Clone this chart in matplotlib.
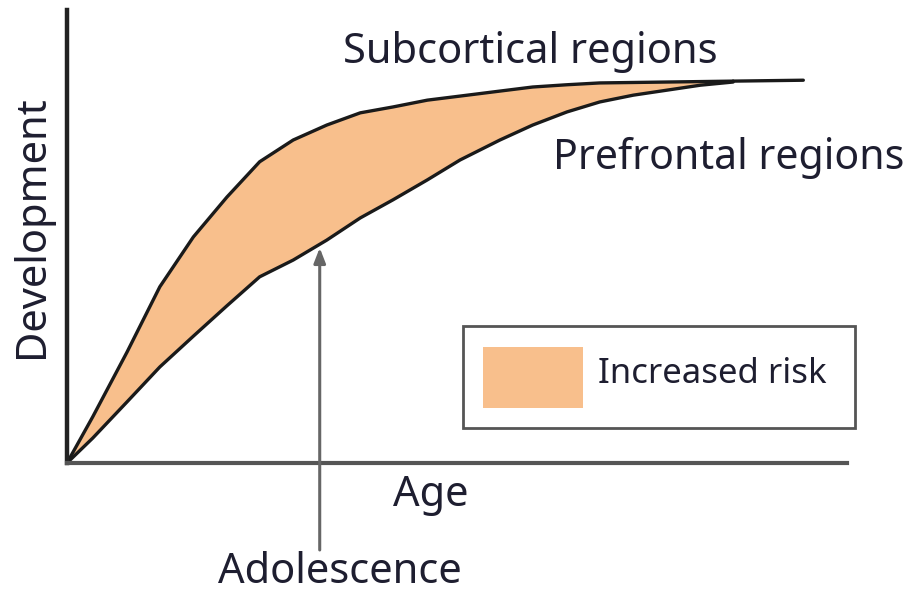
import numpy as np
import matplotlib
matplotlib.use("Agg")
import matplotlib.pyplot as plt
from matplotlib.patches import Rectangle

# Conceptual curves (age and development on a 0-100 scale)
age = [0, 3.3, 7.7, 11.9, 16.2, 20.5, 24.7, 29.0, 33.3, 37.6, 41.8,
       46.2, 50.4, 55.5, 59.7, 64.1, 68.3, 72.6, 76.9, 81.2, 85.4]
subcortical = [0, 10.2, 24.5, 38.9, 49.9, 58.7, 66.5, 71.3, 74.6, 77.3, 78.6,
               80.1, 81.0, 82.1, 83.0, 83.5, 83.9, 84.0, 84.1, 84.2, 84.3]
prefrontal = [0, 5.5, 13.5, 21.2, 28.0, 34.7, 41.1, 44.8, 49.2, 54.1, 58.1,
              62.5, 66.9, 71.3, 74.6, 77.5, 79.7, 81.2, 82.3, 83.4, 84.1]
# subcortical plateau keeps going a little past where the two meet
tail_age = [85.4, 94.4]
tail_dev = [84.3, 84.5]

adolescence_age = 32.4

plt.rcParams["font.family"] = ["Noto Sans", "DejaVu Sans"]
txt = "#1e1e30"
fill_col = "#f8bf8c"

fig = plt.figure(figsize=(9.05, 5.93), dpi=100)
ax = fig.add_axes([67 / 905, 130 / 593, 780 / 905, 453 / 593])
ax.set_xlim(0, 100)
ax.set_ylim(0, 100)
ax.set_xticks([])
ax.set_yticks([])
for side in ["top", "right"]:
    ax.spines[side].set_visible(False)
ax.spines["left"].set_color("#222222")
ax.spines["left"].set_linewidth(3.2)
ax.spines["bottom"].set_color("#555555")
ax.spines["bottom"].set_linewidth(3.0)

# risk band between the two curves
ax.fill_between(age, prefrontal, subcortical, color=fill_col, lw=0)
ax.plot(age, subcortical, color="#1a1a1a", lw=2.4, solid_capstyle="round")
ax.plot(tail_age, tail_dev, color="#1a1a1a", lw=2.4, solid_capstyle="round")
ax.plot(age, prefrontal, color="#1a1a1a", lw=2.4, solid_capstyle="round")

# adolescence pointer
ax.annotate("", xy=(adolescence_age, 47.5), xytext=(adolescence_age, -19.2),
            arrowprops=dict(arrowstyle="-|>,head_length=0.9,head_width=0.35",
                            color="#666666", lw=2.2, shrinkA=0, shrinkB=0),
            annotation_clip=False)

fs = 30
ax.text(35.4, 90.7, "Subcortical regions", fontsize=fs, color=txt, va="center", ha="left", clip_on=False)
ax.text(62.3, 67.3, "Prefrontal regions", fontsize=29.5, color=txt, va="center", ha="left", clip_on=False)
ax.text(41.8, -7.1, "Age", fontsize=fs, color=txt, va="center", ha="left", clip_on=False)
ax.text(19.4, -24.0, "Adolescence", fontsize=fs, color=txt, va="center", ha="left", clip_on=False)
ax.text(-4.5, 52.1, "Development", fontsize=fs, color=txt, va="center", ha="center",
        rotation=90, clip_on=False)

# hand-made legend box
fig.patches.append(Rectangle((463 / 905, 1 - 428 / 593), 392 / 905, 102 / 593,
                             transform=fig.transFigure, fill=False,
                             edgecolor="#555555", lw=2.0))
fig.patches.append(Rectangle((483 / 905, 1 - 408 / 593), 100 / 905, 61 / 593,
                             transform=fig.transFigure, facecolor=fill_col, lw=0))
ax.text(68.1, 19.6, "Increased risk", fontsize=25, color=txt, va="center", ha="left", clip_on=False)

fig.savefig("out.png", dpi=100)
